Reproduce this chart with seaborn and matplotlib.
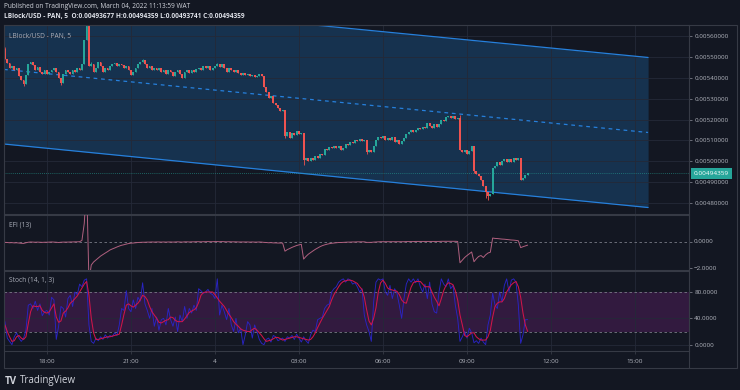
import numpy as np
import pandas as pd
import seaborn as sns
import matplotlib.pyplot as plt
import matplotlib.dates as mdates
import matplotlib.transforms as mtransforms
from matplotlib.patches import Rectangle
from matplotlib.lines import Line2D

sns.set_theme(style='dark')
plt.rcParams['font.family'] = ['Open Sans', 'DejaVu Sans']

# 5 minute candles, LBlock/USD, first bar 16:30 on March 3
start = '2022-03-03 16:30'
first_open = 5537  # price x 1e6
# closes, price x 1e6
closes = [
    5489, 5470, 5446, 5455, 5436, 5446, 5408, 5389, 5369, 5412,
    5465, 5474, 5460, 5436, 5451, 5427, 5417, 5436, 5417, 5427,
    5436, 5446, 5427, 5398, 5374, 5417, 5436, 5427, 5417, 5436,
    5427, 5446, 5436, 5465, 5579, 5660, 5455, 5465, 5427, 5446,
    5474, 5455, 5427, 5446, 5436, 5455, 5465, 5470, 5455, 5465,
    5460, 5446, 5455, 5436, 5412, 5427, 5446, 5465, 5474, 5484,
    5465, 5446, 5455, 5436, 5446, 5436, 5446, 5427, 5436, 5417,
    5436, 5427, 5408, 5427, 5436, 5417, 5398, 5427, 5436, 5422,
    5436, 5427, 5441, 5446, 5436, 5455, 5446, 5455, 5436, 5446,
    5455, 5465, 5451, 5465, 5446, 5427, 5446, 5436, 5427, 5436,
    5422, 5412, 5422, 5412, 5417, 5408, 5412, 5403, 5408, 5417,
    5408, 5355, 5331, 5303, 5312, 5279, 5269, 5255, 5241, 5245,
    5121, 5140, 5112, 5136, 5126, 5145, 5131, 5136, 5007, 5016,
    5002, 5016, 5007, 5026, 5016, 5035, 5031, 5059, 5054, 5069,
    5064, 5074, 5064, 5074, 5054, 5064, 5083, 5079, 5093, 5088,
    5102, 5098, 5107, 5098, 5102, 5045, 5054, 5045, 5074, 5102,
    5117, 5112, 5121, 5102, 5112, 5102, 5117, 5093, 5102, 5083,
    5098, 5112, 5131, 5140, 5150, 5140, 5150, 5159, 5155, 5164,
    5159, 5183, 5169, 5159, 5179, 5164, 5179, 5198, 5193, 5212,
    5217, 5207, 5217, 5202, 5207, 5054, 5045, 5054, 5035, 5050,
    5074, 4954, 4940, 4930, 4911, 4883, 4854, 4835, 4844, 4969,
    4978, 4997, 4983, 5002, 5012, 4997, 5012, 4997, 5016, 5007,
    5016, 4911, 4921, 4936.77, 4943.59,
]
# visible wicks (bar index: price x 1e6)
high_wicks = {0: 5545, 35: 5700, 36: 5690, 37: 5475, 59: 5490, 91: 5470, 195: 5222}
low_wicks = {8: 5360, 24: 5365, 120: 5110, 128: 4985, 155: 5035, 201: 4945, 206: 4825, 207: 4816}

# Elder force index (13)
efi = [
    -0.05, -0.06, -0.08, -0.07, -0.09, -0.08, -0.10, -0.12, -0.13, -0.08,
    -0.04, -0.02, -0.03, -0.04, -0.03, -0.04, -0.05, -0.04, -0.04, -0.03,
    -0.02, -0.03, -0.04, -0.06, -0.04, -0.03, -0.03, -0.03, -0.02, -0.02,
    -0.01, -0.01, 0.00, 0.10, 1.40, 4.50, -3.00, -1.77, -1.54, -1.39,
    -1.24, -1.09, -0.97, -0.86, -0.75, -0.63, -0.55, -0.48, -0.40, -0.33,
    -0.27, -0.23, -0.18, -0.14, -0.11, -0.10, -0.08, -0.06, -0.05, -0.04,
    -0.04, -0.03, -0.03, -0.02, -0.03, -0.02, -0.02, -0.03, -0.02, -0.03,
    -0.02, -0.02, -0.03, -0.02, -0.01, -0.02, -0.03, -0.01, -0.01, -0.02,
    -0.01, -0.01, 0.00, 0.00, -0.01, 0.00, 0.00, 0.01, 0.00, 0.00,
    0.01, 0.01, 0.00, 0.01, 0.00, -0.01, 0.00, -0.01, -0.01, -0.01,
    -0.02, -0.02, -0.02, -0.02, -0.02, -0.03, -0.02, -0.03, -0.03, -0.02,
    -0.03, -0.05, -0.06, -0.08, -0.07, -0.09, -0.09, -0.10, -0.10, -0.10,
    -0.72, -0.60, -0.52, -0.43, -0.36, -0.29, -0.24, -0.20, -1.32, -1.12,
    -0.95, -0.82, -0.70, -0.58, -0.48, -0.38, -0.30, -0.24, -0.19, -0.15,
    -0.12, -0.10, -0.08, -0.06, -0.06, -0.05, -0.04, -0.03, -0.03, -0.02,
    -0.02, -0.01, -0.01, -0.01, -0.01, -0.05, -0.05, -0.05, -0.03, -0.02,
    -0.01, 0.00, 0.00, 0.00, 0.00, 0.00, 0.00, 0.00, 0.00, 0.00,
    0.00, 0.00, 0.01, 0.01, 0.01, 0.01, 0.02, 0.02, 0.02, 0.02,
    0.02, 0.02, 0.02, 0.02, 0.02, 0.02, 0.02, 0.03, 0.03, 0.03,
    0.03, 0.03, 0.03, 0.03, 0.02, -1.60, -1.40, -1.20, -1.05, -0.92,
    -0.78, -1.52, -1.30, -1.12, -1.05, -1.20, -1.00, -0.86, -0.80, 0.28,
    0.25, 0.24, 0.22, 0.20, 0.19, 0.17, 0.15, 0.13, 0.12, 0.10,
    0.07, -0.45, -0.38, -0.32, -0.26,
]

# Stoch (14, 1, 3): %K and %D
stoch_k = [
    35, 10, 5, 0, 12, 18, 10, 5, 10, 22,
    60, 62, 55, 66, 52, 62, 44, 50, 52, 45,
    72, 68, 8, 28, 58, 55, 42, 70, 75, 58,
    80, 76, 92, 88, 98, 100, 30, 5, 2, 10,
    6, 12, 8, 15, 10, 14, 12, 18, 14, 30,
    55, 52, 82, 55, 50, 68, 55, 72, 66, 94,
    62, 52, 40, 55, 28, 42, 22, 38, 40, 30,
    55, 38, 28, 42, 20, 45, 35, 58, 40, 55,
    48, 60, 52, 85, 82, 78, 80, 84, 78, 76,
    70, 100, 45, 60, 50, 38, 55, 30, 20, 40,
    18, 25, 0, 15, 35, 30, 10, 30, 20, 8,
    2, 0, 8, 10, 4, 14, 12, 6, 8, 10,
    5, 12, 10, 14, 8, 16, 10, 4, 12, 6,
    2, 15, 22, 20, 38, 40, 42, 55, 60, 62,
    80, 85, 88, 95, 98, 100, 95, 100, 98, 92,
    94, 88, 80, 85, 45, 30, 20, 5, 65, 95,
    100, 98, 100, 80, 75, 90, 70, 85, 78, 60,
    40, 70, 92, 100, 95, 100, 94, 100, 88, 80,
    92, 70, 95, 62, 50, 48, 80, 100, 92, 88,
    100, 85, 90, 60, 40, 5, 12, 20, 10, 25,
    18, 3, 6, 2, 10, 4, 0, 30, 45, 78,
    60, 55, 80, 65, 90, 100, 80, 98, 100, 95,
    60, 2, 15, 38, 38,
]
stoch_d = [
    30, 20, 12, 5, 6, 12, 14, 10, 8, 12,
    32, 50, 59, 58, 58, 59, 52, 49, 48, 50,
    56, 62, 42, 34, 36, 48, 51, 56, 63, 66,
    70, 74, 80, 86, 92, 96, 75, 40, 18, 8,
    8, 9, 10, 11, 12, 12, 13, 14, 15, 16,
    30, 46, 60, 62, 59, 57, 60, 63, 68, 75,
    73, 68, 58, 50, 45, 40, 34, 33, 35, 37,
    38, 42, 41, 37, 35, 35, 35, 39, 44, 49,
    51, 53, 56, 64, 75, 79, 80, 80, 80, 80,
    76, 71, 66, 62, 58, 52, 46, 41, 35, 31,
    28, 24, 22, 21, 20, 20, 23, 25, 22, 18,
    14, 9, 5, 6, 7, 9, 11, 11, 9, 7,
    8, 9, 10, 11, 12, 12, 11, 10, 9, 8,
    7, 8, 12, 18, 26, 33, 40, 46, 52, 58,
    68, 76, 82, 88, 93, 96, 97, 98, 98, 97,
    95, 93, 88, 84, 72, 53, 36, 30, 40, 56,
    80, 94, 98, 93, 86, 84, 83, 82, 81, 76,
    68, 64, 63, 75, 87, 94, 96, 96, 96, 92,
    88, 88, 88, 80, 72, 66, 59, 70, 82, 90,
    94, 93, 91, 82, 68, 45, 30, 14, 12, 15,
    18, 18, 12, 9, 7, 7, 7, 12, 22, 42,
    58, 63, 65, 65, 70, 80, 86, 91, 94, 96,
    88, 72, 48, 30, 20,
]

# parallel channel drawing (anchor times, price x 1e6)
channel_t = ['2022-03-03 16:28:00', '2022-03-04 15:28:00']
channel_lower = [5083, 4780]
channel_mid = [5439, 5138]

price_ticks = [4800, 4900, 5000, 5100, 5200, 5300, 5400, 5500, 5600]
time_ticks = ['2022-03-03 18:00:00', '2022-03-03 21:00:00', '2022-03-04 00:00:00', '2022-03-04 03:00:00',
              '2022-03-04 06:00:00', '2022-03-04 09:00:00', '2022-03-04 12:00:00', '2022-03-04 15:00:00']
time_labels = ['18:00', '21:00', '4', '03:00', '06:00', '09:00', '12:00', '15:00']
view = ['2022-03-03 16:28:00', '2022-03-04 16:55:40']

BG = '#131722'
BORDER = '#363a45'
GRID = '#242938'
TXT = '#b2b5be'
UP, DOWN = '#26a69a', '#ef5350'

# ---- data prep
times = pd.date_range(start, periods=len(closes), freq='5min')
x = mdates.date2num(times)
close = np.array(closes, dtype=float) / 1e6
opn = np.r_[first_open / 1e6, close[:-1]]
high = np.maximum(opn, close)
low = np.minimum(opn, close)
for i, v in high_wicks.items():
    high[i] = v / 1e6
for i, v in low_wicks.items():
    low[i] = v / 1e6
col = np.where(close >= opn, UP, DOWN)
ind = pd.DataFrame({'x': x, 'efi': efi, 'k': stoch_k, 'd': stoch_d})

W, H = 740, 390
fig = plt.figure(figsize=(7.4, 3.9), dpi=100, facecolor=BG)

def fy(py):
    return 1 - py / H

L, R = 4, 689
ax1 = fig.add_axes([L / W, fy(214), (R - L) / W, 189 / H])
ax2 = fig.add_axes([L / W, fy(270), (R - L) / W, 55 / H])
ax3 = fig.add_axes([L / W, fy(351), (R - L) / W, 80 / H])

xl = mdates.date2num(pd.to_datetime(view))
tx = mdates.date2num(pd.to_datetime(time_ticks))
for ax in (ax1, ax2, ax3):
    ax.set_facecolor(BG)
    ax.set_xlim(*xl)
    ax.set_xticks(tx)
    for v in tx:
        ax.axvline(v, color=GRID, lw=0.6, zorder=0.6)
    for s in ax.spines.values():
        s.set_color(BORDER)
        s.set_linewidth(0.8)
    ax.yaxis.tick_right()
    ax.tick_params(axis='y', right=True, left=False, length=2.2, width=0.6, color='#787b86',
                   labelcolor=TXT, labelsize=4.5, pad=1.5)
    ax.tick_params(axis='x', bottom=False, labelbottom=False)

# ---- main price pane
ax1.set_ylim(0.004749, 0.005651)
ax1.set_yticks(np.array(price_ticks) / 1e6)
ax1.set_yticklabels([f'{v / 1e6:.8f}' for v in price_ticks])
for v in price_ticks:
    ax1.axhline(v / 1e6, color=GRID, lw=0.6, zorder=0.6)

ctx = mdates.date2num(pd.to_datetime(channel_t))
lo = np.array(channel_lower) / 1e6
mid = np.array(channel_mid) / 1e6
up = 2 * mid - lo
ax1.fill_between(ctx, lo, up, color='#2196f3', alpha=0.22, lw=0, zorder=0.5)
ax1.plot(ctx, lo, color='#2680dc', lw=0.9, zorder=1)
ax1.plot(ctx, up, color='#2680dc', lw=0.9, zorder=1)
ax1.plot(ctx, mid, color='#2680dc', lw=0.9, ls=(0, (3, 3)), zorder=1)

bw = 5 / 1440 * 0.75
body = close - opn
body = np.where(np.abs(body) < 4e-7, 4e-7, body)
ax1.vlines(x, low, high, colors=col, lw=0.6, zorder=2)
ax1.bar(x, body, bottom=opn, width=bw, color=col, lw=0, zorder=3)

last = close[-1]
ax1.axhline(last, color=UP, lw=0.6, ls=(0, (1, 1.5)), alpha=0.7, zorder=1.5)
ax1.text(1.0, last, '0.00494359', transform=mtransforms.offset_copy(ax1.get_yaxis_transform(), fig=fig, x=4.5, units='dots'),
         ha='left', va='center', fontsize=4.6, color='white', clip_on=False,
         bbox=dict(boxstyle='square,pad=0.45', fc=UP, ec='none'))
ax1.text(0.007, 0.94, 'LBlock/USD - PAN, 5', transform=ax1.transAxes, fontsize=4.8, color='#a9adb8', va='center')

# ---- EFI pane
sns.lineplot(data=ind, x='x', y='efi', ax=ax2, color='#b0607f', lw=0.7, legend=False, zorder=3)
ax2.set_ylim(-2.15, 2.03)
ax2.axhline(0, color='#787b86', lw=0.6, ls=(0, (3, 3)), zorder=1)
ax2.set_yticks([0, -2])
ax2.set_yticklabels(['', ''])
clip = mtransforms.TransformedBbox(mtransforms.Bbox.from_extents(R / W, fy(270), 1, fy(215)), fig.transFigure)
for v, s in [(0, '0.0000'), (-2, '\u22122.0000')]:
    t = ax2.text(1.0, v, s, transform=mtransforms.offset_copy(ax2.get_yaxis_transform(), fig=fig, x=5, units='dots'),
                 ha='left', va='center', fontsize=4.5, color=TXT, clip_on=True)
    t.set_clip_box(clip)
ax2.text(0.007, 0.82, 'EFI (13)', transform=ax2.transAxes, fontsize=4.8, color='#a9adb8', va='center')

# ---- Stoch pane
ax3.set_ylim(-9.6, 111.9)
ax3.axhspan(20, 80, color='#b02ab8', alpha=0.2, lw=0, zorder=0.4)
ax3.axhline(80, color='#787b86', lw=0.6, ls=(0, (3, 3)), zorder=1)
ax3.axhline(20, color='#787b86', lw=0.6, ls=(0, (3, 3)), zorder=1)
for v in (0, 40):
    ax3.axhline(v, color=GRID, lw=0.6, zorder=0.6)
sns.lineplot(data=ind, x='x', y='k', ax=ax3, color='#2a24c4', lw=0.65, legend=False, zorder=3)
sns.lineplot(data=ind, x='x', y='d', ax=ax3, color='#d0154a', lw=0.75, legend=False, zorder=4)
ax3.set_yticks([0, 40, 80])
ax3.set_yticklabels(['0.0000', '40.0000', '80.0000'])
ax3.tick_params(axis='x', bottom=True, labelbottom=True, length=2, width=0.6, color=BORDER,
                labelcolor=TXT, labelsize=4.6, pad=4)
ax3.set_xticklabels(time_labels)
ax3.text(0.007, 0.89, 'Stoch (14, 1, 3)', transform=ax3.transAxes, fontsize=4.8, color='#a9adb8', va='center')

for ax in (ax1, ax2, ax3):
    ax.set_xlabel('')
    ax.set_ylabel('')

# ---- frame, header and logo
fig.patches.append(Rectangle((L / W, fy(368)), (737 - L) / W, (368 - 25) / H, transform=fig.transFigure,
                             fill=False, ec=BORDER, lw=0.8))
fig.lines.append(Line2D([R / W, R / W], [fy(368), fy(25)], transform=fig.transFigure, color=BORDER, lw=0.8))
fig.text(4 / W, fy(6.5), 'Published on TradingView.com, March 04, 2022 11:13:59 WAT', fontsize=4.7, color='#d1d4dc', va='center')
fig.text(4 / W, fy(16.5), 'LBlock/USD - PAN, 5  O:0.00493677 H:0.00494359 L:0.00493741 C:0.00494359',
         fontsize=4.7, color='#e0e3eb', fontweight='bold', va='center')
fig.text(5 / W, fy(381), 'TV', fontsize=7, color='#d1d4dc', fontweight='bold', va='center')
fig.text(20 / W, fy(381), 'TradingView', fontsize=7, color='#d1d4dc', va='center')

fig.savefig('out.png', dpi=100, facecolor=BG)
